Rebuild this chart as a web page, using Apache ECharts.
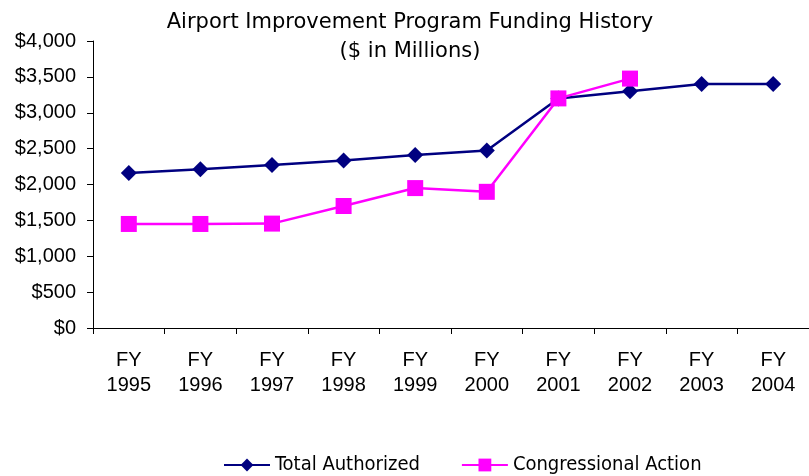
<!DOCTYPE html>
<html>
<head>
<meta charset="utf-8">
<script src="https://cdn.jsdelivr.net/npm/echarts@6/dist/echarts.min.js"></script>
<style>
  html, body { margin: 0; padding: 0; background: #fff; }
  #chart { width: 809px; height: 476px; }
</style>
</head>
<body>
<div id="chart"></div>
<script>
// data ($ in millions)
const years = ['FY\n1995', 'FY\n1996', 'FY\n1997', 'FY\n1998', 'FY\n1999',
               'FY\n2000', 'FY\n2001', 'FY\n2002', 'FY\n2003', 'FY\n2004'];
const totalAuthorized = [2161, 2214, 2273, 2333, 2410, 2475, 3200, 3300, 3400, 3400];
const congressionalAction = [1450, 1450, 1455, 1700, 1950, 1898, 3200, 3476];
const yTicks = [0, 500, 1000, 1500, 2000, 2500, 3000, 3500, 4000];

const chart = echarts.init(document.getElementById('chart'));

const option = {
    animation: false,
    backgroundColor: '#fff',
    title: {
        text: 'Airport Improvement Program Funding History\n($ in Millions)',
        left: 405,
        textAlign: 'center',
        top: 3,
        textStyle: {
            fontFamily: 'DejaVu Sans',
            fontWeight: 'normal',
            fontSize: 21,
            color: '#000',
            lineHeight: 29
        }
    },
    legend: {
        bottom: -4,
        left: 218,
        itemWidth: 46,
        itemHeight: 16,
        itemGap: 41,
        textStyle: {
            fontFamily: 'DejaVu Sans Condensed',
            fontSize: 20,
            color: '#000'
        },
        data: ['Total Authorized', 'Congressional Action']
    },
    grid: {
        left: 93,
        right: -7,
        top: 41,
        bottom: 148
    },
    xAxis: {
        type: 'category',
        data: years,
        boundaryGap: true,
        axisLine: { lineStyle: { color: '#000', width: 1 } },
        axisTick: { show: true, length: 6, lineStyle: { color: '#000' } },
        axisLabel: {
            color: '#000',
            fontFamily: 'Liberation Sans',
            fontSize: 20,
            lineHeight: 25,
            margin: 20,
            interval: 0
        }
    },
    yAxis: {
        type: 'value',
        min: yTicks[0],
        max: yTicks[yTicks.length - 1],
        interval: yTicks[1] - yTicks[0],
        splitLine: { show: false },
        axisLine: { show: true, lineStyle: { color: '#000', width: 1 } },
        axisTick: { show: true, length: 6, lineStyle: { color: '#000' } },
        axisLabel: {
            color: '#000',
            fontFamily: 'Liberation Sans',
            fontSize: 20,
            margin: 17,
            formatter: v => '$' + v.toLocaleString('en-US')
        }
    },
    series: [
        {
            name: 'Total Authorized',
            type: 'line',
            data: totalAuthorized,
            symbol: 'diamond',
            symbolSize: 16,
            itemStyle: { color: '#000080' },
            lineStyle: { color: '#000080', width: 2.5 }
        },
        {
            name: 'Congressional Action',
            type: 'line',
            data: congressionalAction,
            symbol: 'rect',
            symbolSize: 16,
            itemStyle: { color: '#ff00ff' },
            lineStyle: { color: '#ff00ff', width: 2.5 }
        }
    ]
};

chart.setOption(option);
</script>
</body>
</html>
